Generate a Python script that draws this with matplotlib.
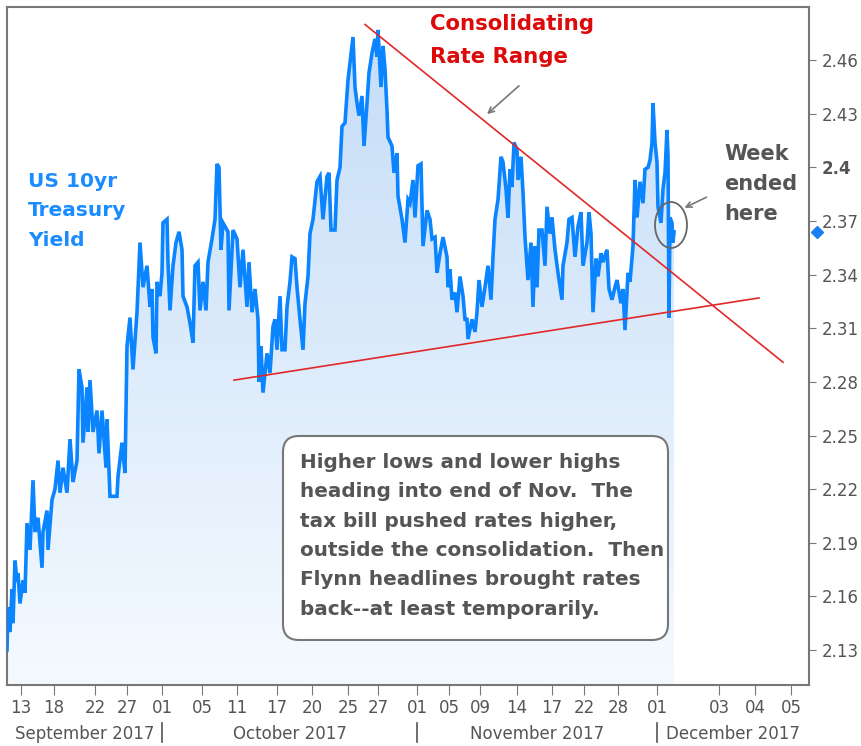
import matplotlib
matplotlib.use("Agg")
import matplotlib.pyplot as plt
import matplotlib.transforms as mtrans
from matplotlib.patches import FancyBboxPatch, Ellipse, Polygon
import numpy as np

# session position (trading time axis) and 10yr yield
pos = [7, 8, 10, 12, 13, 15, 17, 18, 20, 23, 25, 27, 30, 33, 35, 38, 42, 43, 47, 48,
       52, 55, 58, 60, 63, 67, 70, 73, 77, 79, 82, 83, 87, 88, 90, 93, 97, 99, 102, 106,
       107, 110, 117, 118, 122, 125, 127, 130, 133, 137, 140, 143, 147, 150, 152, 153, 156, 157, 160, 162,
       163, 167, 168, 170, 173, 176, 179, 182, 183, 187, 190, 193, 195, 198, 200, 203, 206, 208, 212, 215,
       217, 219, 221, 223, 228, 229, 233, 237, 240, 243, 247, 249, 252, 255, 258, 259, 261, 263, 267, 270,
       273, 275, 277, 280, 282, 285, 287, 290, 292, 295, 297, 300, 303, 305, 308, 310, 313, 317, 320, 323,
       327, 329, 331, 335, 337, 340, 342, 345, 348, 352, 353, 355, 357, 359, 362, 364, 367, 369, 372, 375,
       377, 378, 381, 383, 385, 387, 388, 392, 394, 397, 398, 402, 405, 408, 410, 413, 415, 418, 421, 422,
       423, 427, 430, 432, 435, 437, 440, 443, 447, 448, 450, 452, 455, 457, 460, 463, 465, 467, 468, 472,
       475, 477, 479, 482, 485, 488, 491, 493, 495, 498, 501, 503, 506, 508, 510, 512, 514, 517, 518, 521,
       523, 525, 528, 531, 533, 535, 537, 539, 542, 545, 547, 550, 552, 555, 558, 562, 563, 567, 569, 572,
       575, 578, 581, 583, 587, 589, 591, 593, 596, 598, 601, 603, 607, 609, 612, 615, 617, 621, 623, 625,
       628, 630, 633, 635, 637, 640, 643, 645, 648, 650, 652, 653, 655, 657, 658, 661, 663, 665, 667, 668,
       669, 670, 672, 673, 674]
yld = [2.130, 2.154, 2.140, 2.164, 2.145, 2.180, 2.168, 2.173, 2.156, 2.169, 2.162, 2.201, 2.186, 2.225, 2.196, 2.204, 2.176, 2.196, 2.208, 2.186,
       2.214, 2.220, 2.236, 2.218, 2.232, 2.218, 2.248, 2.224, 2.236, 2.287, 2.277, 2.246, 2.277, 2.252, 2.281, 2.252, 2.264, 2.240, 2.264, 2.232,
       2.259, 2.216, 2.216, 2.227, 2.246, 2.229, 2.300, 2.316, 2.287, 2.319, 2.358, 2.333, 2.345, 2.322, 2.332, 2.305, 2.296, 2.336, 2.328, 2.341,
       2.369, 2.371, 2.347, 2.320, 2.345, 2.358, 2.364, 2.354, 2.328, 2.322, 2.313, 2.302, 2.345, 2.347, 2.320, 2.336, 2.320, 2.347, 2.360, 2.371,
       2.402, 2.400, 2.354, 2.369, 2.364, 2.320, 2.365, 2.360, 2.333, 2.354, 2.322, 2.347, 2.319, 2.332, 2.315, 2.280, 2.300, 2.274, 2.296, 2.285,
       2.311, 2.315, 2.298, 2.328, 2.298, 2.298, 2.322, 2.336, 2.350, 2.349, 2.333, 2.315, 2.298, 2.324, 2.339, 2.363, 2.371, 2.392, 2.395, 2.371,
       2.395, 2.397, 2.365, 2.365, 2.393, 2.400, 2.423, 2.425, 2.449, 2.468, 2.473, 2.445, 2.436, 2.429, 2.440, 2.412, 2.436, 2.453, 2.464, 2.472,
       2.462, 2.477, 2.445, 2.468, 2.455, 2.432, 2.417, 2.412, 2.397, 2.408, 2.384, 2.371, 2.358, 2.382, 2.380, 2.393, 2.372, 2.401, 2.402, 2.378,
       2.356, 2.376, 2.371, 2.360, 2.361, 2.341, 2.352, 2.361, 2.350, 2.333, 2.343, 2.326, 2.330, 2.319, 2.339, 2.328, 2.315, 2.315, 2.304, 2.315,
       2.308, 2.319, 2.337, 2.322, 2.333, 2.345, 2.326, 2.350, 2.371, 2.382, 2.406, 2.403, 2.388, 2.372, 2.399, 2.389, 2.414, 2.410, 2.393, 2.406,
       2.386, 2.361, 2.337, 2.358, 2.322, 2.356, 2.333, 2.365, 2.365, 2.345, 2.378, 2.363, 2.372, 2.354, 2.341, 2.326, 2.345, 2.358, 2.371, 2.372,
       2.350, 2.367, 2.375, 2.345, 2.358, 2.375, 2.363, 2.319, 2.349, 2.339, 2.352, 2.347, 2.354, 2.332, 2.326, 2.333, 2.337, 2.324, 2.332, 2.309,
       2.341, 2.336, 2.356, 2.393, 2.372, 2.392, 2.380, 2.399, 2.400, 2.404, 2.414, 2.436, 2.414, 2.403, 2.378, 2.369, 2.388, 2.397, 2.421, 2.406,
       2.316, 2.372, 2.369, 2.358, 2.364]
last_yield = 2.364

# trend lines of the consolidation range
upper_pos = [365, 783]
upper_val = [2.480, 2.291]
lower_pos = [234, 759]
lower_val = [2.281, 2.327]

yticks = [2.13, 2.16, 2.19, 2.22, 2.25, 2.28, 2.31, 2.34, 2.37, 2.4, 2.43, 2.46]
ytick_labels = ['2.13', '2.16', '2.19', '2.22', '2.25', '2.28', '2.31', '2.34', '2.37', '2.4', '2.43', '2.46']
xtick_pos = [21, 54, 95, 127, 162, 202, 237, 277, 312, 348, 378, 417, 449, 480, 517, 552,
             584, 618, 657, 719, 755, 791]
xtick_labels = ['13', '18', '22', '27', '01', '05', '11', '17', '20', '25', '27', '01', '05',
                '09', '14', '17', '22', '28', '01', '03', '04', '05']
months = ['September 2017', 'October 2017', 'November 2017', 'December 2017']
month_starts = [7, 162, 417, 657, 809]

W, H = 861, 746
fig = plt.figure(figsize=(W / 100, H / 100), dpi=100)
ax = fig.add_axes([7 / W, 1 - 685 / H, 802 / W, 678 / H])
# pixel coords of the image (y down)
px = mtrans.Affine2D().scale(1 / W, -1 / H).translate(0, 1) + fig.transFigure

ymin, ymax = 2.1104, 2.4898

# gradient fill under the line
verts = [(pos[0], ymin)] + list(zip(pos, yld)) + [(pos[-1], ymin)]
poly = Polygon(verts, closed=True, facecolor='none', edgecolor='none')
ax.add_patch(poly)
top_c = np.array([0.77, 0.865, 0.97])
bot_c = np.array([0.96, 0.98, 1.0])
g = np.linspace(0, 1, 256)[:, None]
grad = (top_c * (1 - g) + bot_c * g)[:, None, :].repeat(2, axis=1)
im = ax.imshow(grad, extent=[pos[0], pos[-1], ymin, 2.48], aspect='auto', origin='upper', zorder=1)
im.set_clip_path(poly)
ax.set_ylim(ymin, ymax)
ax.set_xlim(7, 809)

ax.plot(pos, yld, color='#0a84ff', lw=2.6, zorder=3, solid_joinstyle='miter')
ax.plot(upper_pos, upper_val, color='#e0282a', lw=1.2, zorder=4)
ax.plot(lower_pos, lower_val, color='#e0282a', lw=1.2, zorder=4)

# last value marker at right axis
ax.plot([1.01], [last_yield], marker='D', ms=6, color='#1a7ff0',
        transform=mtrans.blended_transform_factory(ax.transAxes, ax.transData), clip_on=False)

for s in ax.spines.values():
    s.set_color('#777777')
    s.set_linewidth(1.5)

ax.yaxis.tick_right()
ax.set_yticks(yticks)
ax.set_yticklabels(ytick_labels)
ax.tick_params(axis='y', direction='out', length=5, color='#777777', labelcolor='#555555',
               labelsize=12, pad=4)
for lab in ax.get_yticklabels():
    if lab.get_text() == '2.4':
        lab.set_fontweight('bold')
ax.set_xticks(xtick_pos)
ax.set_xticklabels(xtick_labels)
ax.tick_params(axis='x', direction='out', length=7, color='#777777', labelcolor='#555555',
               labelsize=12, pad=3)

# month labels and separators
for i, m in enumerate(months):
    cx = (month_starts[i] + month_starts[i + 1]) / 2
    fig.text(cx, 734, m, transform=px, ha='center', va='center', fontsize=12, color='#555555')
for x in month_starts[1:4]:
    fig.add_artist(plt.Line2D([x, x], [723, 742], transform=px, color='#555555', lw=1.2))

# annotations
fig.text(430, 14, 'Consolidating\nRate Range', transform=px, ha='left', va='top', fontsize=15.3,
         fontweight='bold', color='#dd0a0a', linespacing=1.8)
ax.annotate('', xy=(485, 116), xytext=(521, 84), xycoords=px, textcoords=px,
            arrowprops=dict(arrowstyle='->', color='#777777', lw=1.2))

fig.text(28, 172, 'US 10yr\nTreasury\nYield', transform=px, ha='left', va='top', fontsize=14.5,
         fontweight='bold', color='#1a8cff', linespacing=1.69)

fig.text(724, 144, 'Week\nended\nhere', transform=px, ha='left', va='top', fontsize=15,
         fontweight='bold', color='#555555', linespacing=1.63)
fig.add_artist(Ellipse((671, 225), 32, 46, transform=px, fill=False, ec='#666666', lw=1.3))
ax.annotate('', xy=(682, 209), xytext=(709, 196), xycoords=px, textcoords=px,
            arrowprops=dict(arrowstyle='->', color='#777777', lw=1.2))

box = FancyBboxPatch((283, 436), 385, 204, boxstyle='round,pad=0,rounding_size=16',
                     transform=px, fc='white', ec='#777777', lw=1.5, zorder=5)
fig.add_artist(box)
fig.text(300, 453, 'Higher lows and lower highs\nheading into end of Nov.  The\n'
         'tax bill pushed rates higher,\noutside the consolidation.  Then\n'
         'Flynn headlines brought rates\nback--at least temporarily.',
         transform=px, ha='left', va='top', fontsize=14.4, fontweight='bold', color='#555555',
         linespacing=1.69, zorder=6)

fig.savefig('out.png', dpi=100)
